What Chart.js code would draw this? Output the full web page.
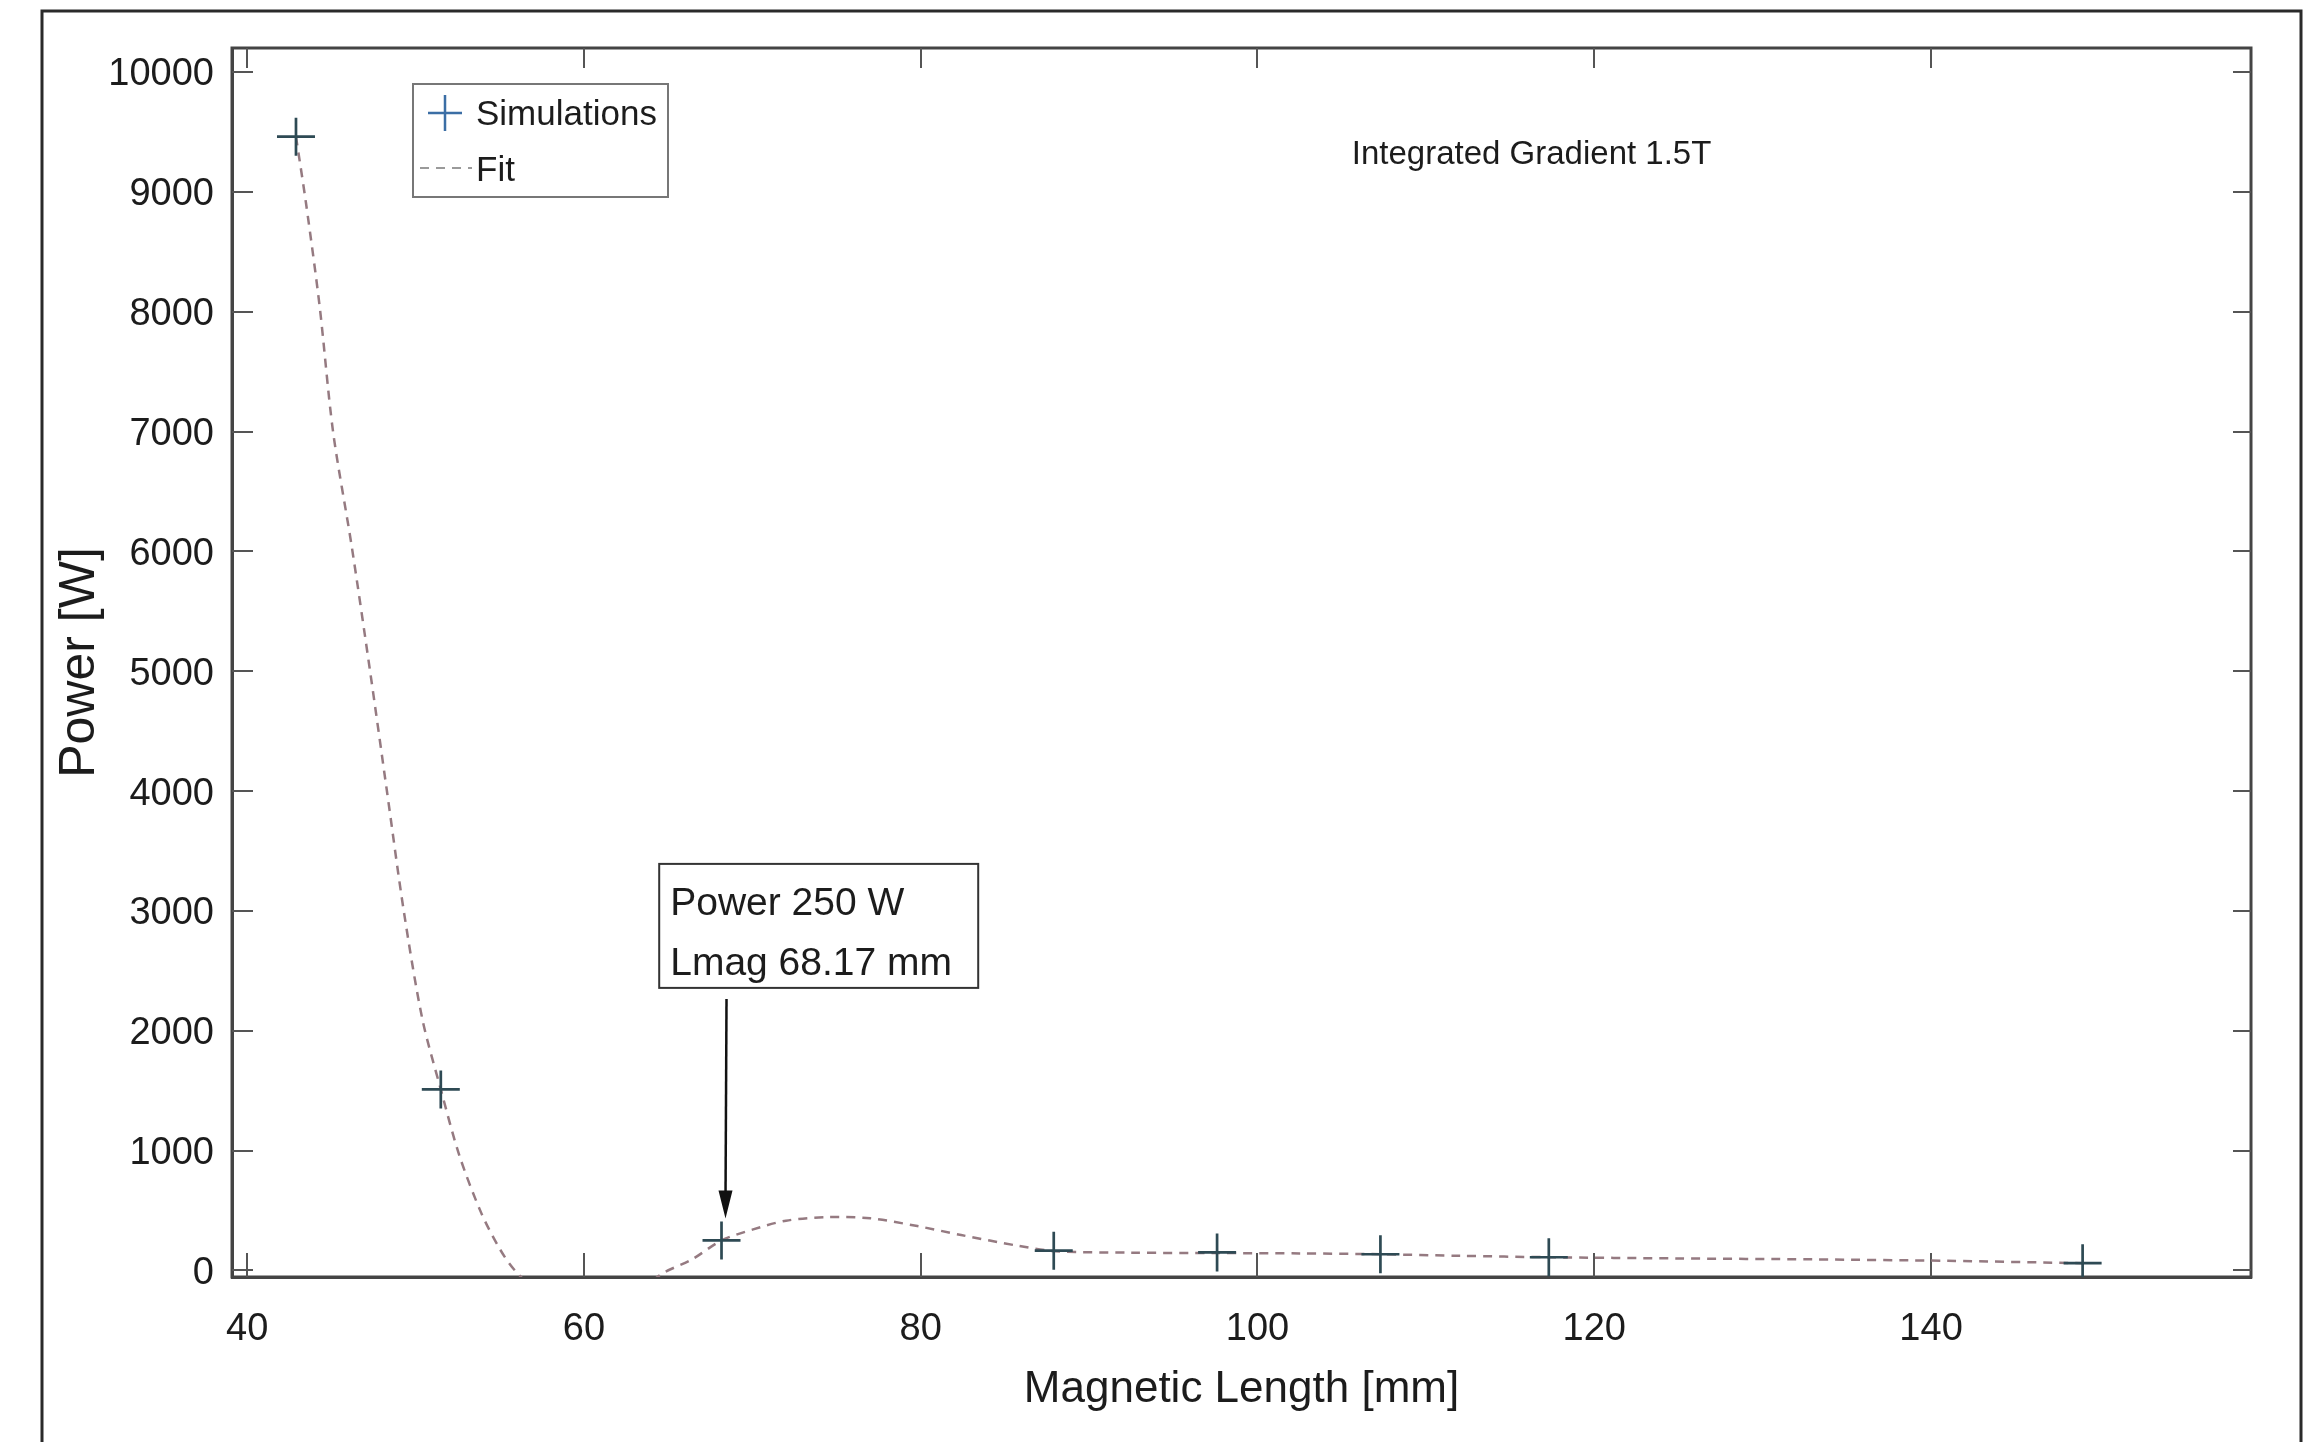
<!DOCTYPE html>
<html>
<head>
<meta charset="utf-8">
<script src="https://cdn.jsdelivr.net/npm/chart.js@4.4.1/dist/chart.umd.min.js"></script>
<style>
  html, body { margin: 0; padding: 0; background: #fff; overflow: hidden; }
  canvas { display: block; }
</style>
</head>
<body>
<canvas id="chart" width="2304" height="1442"></canvas>
<script>
// ===== data =====
const simX = [42.9, 51.5, 68.17, 87.9, 97.6, 107.3, 117.3, 149.0];
const simY = [9460, 1510, 250, 165, 150, 135, 110, 60];

const fitX = [42.9, 43.5, 44.3, 45.1, 46.2, 47.3, 48.3, 49.3, 50.4, 51.5, 52.6, 53.9, 55.0, 55.9,
              57.8, 60.0, 62.5, 64.5, 66.4, 68.17, 70.0, 72.0, 74.4, 77.0, 79.8, 82.4, 85.8, 88.0,
              92.5, 97.6, 102.5, 107.3, 112.0, 117.3, 125.0, 133.0, 141.0, 149.0];
const fitY = [9460, 8900, 8050, 7000, 6050, 5000, 4000, 3000, 2100, 1510, 960, 480, 180, 0,
              -250, -400, -300, -40, 90, 250, 340, 415, 445, 435, 370, 295, 205, 160,
              148, 145, 142, 135, 122, 110, 100, 92, 80, 60];

const xTicks = [40, 60, 80, 100, 120, 140];
const yTicks = [0, 1000, 2000, 3000, 4000, 5000, 6000, 7000, 8000, 9000, 10000];

const seriesNames = ['Simulations', 'Fit'];
const noteText = 'Integrated Gradient 1.5T';
const calloutLines = ['Power 250 W', 'Lmag 68.17 mm'];
const calloutAt = [68.17, 250];

const FONT = "'Liberation Sans', Arial, sans-serif";
const INK = '#1c1c1c';

// ===== extras: box, inward ticks, legend, notes =====
const decor = {
  id: 'decor',
  beforeDatasetsDraw(chart) {
    const { ctx, chartArea: a } = chart;
    const xs = chart.scales.x, ys = chart.scales.y;
    ctx.save();
    ctx.strokeStyle = '#444';
    ctx.lineWidth = 3;
    ctx.strokeRect(a.left, a.top, a.right - a.left, a.bottom - a.top);
    ctx.lineWidth = 2;
    ctx.strokeStyle = '#555';
    ctx.beginPath();
    xTicks.forEach(v => {
      const p = Math.round(xs.getPixelForValue(v));
      ctx.moveTo(p, a.bottom); ctx.lineTo(p, a.bottom - 24);
      ctx.moveTo(p, a.top); ctx.lineTo(p, a.top + 20);
    });
    yTicks.forEach(v => {
      const p = Math.round(ys.getPixelForValue(v));
      ctx.moveTo(a.left, p); ctx.lineTo(a.left + 21, p);
      ctx.moveTo(a.right, p); ctx.lineTo(a.right - 18, p);
    });
    ctx.stroke();
    ctx.restore();
  },
  afterDraw(chart) {
    const { ctx } = chart;
    const xs = chart.scales.x, ys = chart.scales.y;
    ctx.save();

    // outer frame (cut off at the bottom of the picture)
    ctx.strokeStyle = '#2a2a2a';
    ctx.lineWidth = 3;
    ctx.beginPath();
    ctx.moveTo(42, 1442); ctx.lineTo(42, 11); ctx.lineTo(2301, 11); ctx.lineTo(2301, 1442);
    ctx.stroke();

    // legend
    const L = { x: 413, y: 84, w: 255, h: 113 };
    ctx.fillStyle = '#fff';
    ctx.fillRect(L.x, L.y, L.w, L.h);
    ctx.strokeStyle = '#777';
    ctx.lineWidth = 2;
    ctx.strokeRect(L.x, L.y, L.w, L.h);
    ctx.strokeStyle = '#3b6ea5';
    ctx.lineWidth = 2.5;
    ctx.beginPath();
    ctx.moveTo(428, 113); ctx.lineTo(462, 113);
    ctx.moveTo(445, 95); ctx.lineTo(445, 131);
    ctx.stroke();
    ctx.strokeStyle = '#9a9a9a';
    ctx.lineWidth = 2;
    ctx.setLineDash([9, 7]);
    ctx.beginPath();
    ctx.moveTo(420, 168); ctx.lineTo(472, 168);
    ctx.stroke();
    ctx.setLineDash([]);
    ctx.fillStyle = INK;
    ctx.font = '35px ' + FONT;
    ctx.textBaseline = 'middle';
    ctx.textAlign = 'left';
    const ds = chart.data.datasets;
    ctx.fillText(ds[0].label, 476, 115);
    ctx.fillText(ds[1].label, 476, 171);

    // note text
    ctx.font = '33px ' + FONT;
    ctx.fillText(noteText, xs.getPixelForValue(105.6), ys.getPixelForValue(9310));

    // callout box + arrow
    const px = xs.getPixelForValue(calloutAt[0]);
    const py = ys.getPixelForValue(calloutAt[1]);
    const bx = xs.getPixelForValue(64.47), by = ys.getPixelForValue(3392);
    ctx.fillStyle = '#fff';
    ctx.fillRect(bx, by, 319, 124);
    ctx.strokeStyle = '#333';
    ctx.lineWidth = 2;
    ctx.strokeRect(bx, by, 319, 124);
    ctx.fillStyle = INK;
    ctx.font = '39px ' + FONT;
    ctx.fillText(calloutLines[0], bx + 11, by + 40);
    ctx.fillText(calloutLines[1], bx + 11, by + 100);

    const tipY = py - 22;
    ctx.strokeStyle = '#111';
    ctx.lineWidth = 2.5;
    ctx.beginPath();
    ctx.moveTo(px + 5, by + 135); ctx.lineTo(px + 4, tipY - 20);
    ctx.stroke();
    ctx.fillStyle = '#111';
    ctx.beginPath();
    ctx.moveTo(px + 4, tipY); ctx.lineTo(px - 3, tipY - 28); ctx.lineTo(px + 11, tipY - 28);
    ctx.closePath();
    ctx.fill();

    ctx.restore();
  }
};

const tickFont = { family: FONT, size: 38 };

new Chart(document.getElementById('chart').getContext('2d'), {
  type: 'scatter',
  data: {
    datasets: [
      {
        label: seriesNames[0],
        data: simX.map((x, i) => ({ x, y: simY[i] })),
        showLine: false,
        pointStyle: 'cross',
        pointRadius: 19,
        pointBorderWidth: 2.7,
        borderColor: '#2e4a54',
        backgroundColor: '#2e4a54',
        order: 0
      },
      {
        label: seriesNames[1],
        data: fitX.map((x, i) => ({ x, y: fitY[i] })),
        showLine: true,
        pointRadius: 0,
        borderColor: '#957a81',
        borderWidth: 2.5,
        borderDash: [9, 7],
        tension: 0.3,
        order: 1
      }
    ]
  },
  options: {
    responsive: false,
    animation: false,
    layout: { padding: { top: 48, right: 53, left: 0, bottom: 0 } },
    plugins: { legend: { display: false }, tooltip: { enabled: false } },
    scales: {
      x: {
        type: 'linear',
        min: 39.1,
        max: 159,
        afterBuildTicks: s => { s.ticks = xTicks.map(v => ({ value: v })); },
        afterFit: s => { s.height = 165; },
        grid: { display: false, drawTicks: false },
        border: { display: true, color: '#444', width: 3 },
        ticks: { font: tickFont, color: INK, padding: 30, callback: v => String(v) },
        title: {
          display: true,
          text: 'Magnetic Length [mm]',
          font: { family: FONT, size: 44 },
          color: INK,
          padding: { top: 0, bottom: 26 }
        }
      },
      y: {
        type: 'linear',
        min: -55,
        max: 10200,
        afterBuildTicks: s => { s.ticks = yTicks.map(v => ({ value: v })); },
        afterFit: s => { s.width = 232; },
        grid: { display: false, drawTicks: false },
        border: { display: true, color: '#444', width: 3 },
        ticks: { font: tickFont, color: INK, padding: 18, labelOffset: 3, callback: v => String(v) },
        title: {
          display: true,
          text: 'Power [W]',
          font: { family: FONT, size: 50 },
          color: INK,
          padding: { top: 50, bottom: 0 }
        }
      }
    }
  },
  plugins: [decor]
});
</script>
</body>
</html>
